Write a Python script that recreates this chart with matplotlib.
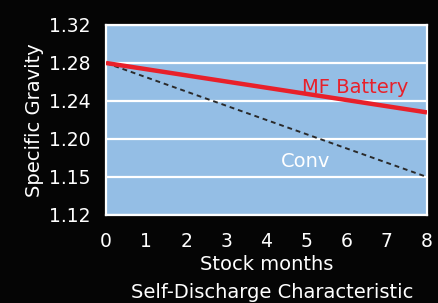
import numpy as np
import matplotlib
matplotlib.use("Agg")
import matplotlib.pyplot as plt

# ------------- data -------------
months = [0, 8]
mf_battery = [1.28, 1.228]
conv = [1.28, 1.15]
y_ticks = [1.12, 1.15, 1.20, 1.24, 1.28, 1.32]
x_ticks = [0, 1, 2, 3, 4, 5, 6, 7, 8]
# --------------------------------

BG = "#050505"
FACE = "#94BEE5"
RED = "#E8202A"
plt.rcParams["font.family"] = ["DejaVu Sans"]

# y axis is evenly spaced per tick, not per value
tick_pos = np.arange(len(y_ticks))
def fwd(v):
    return np.interp(v, y_ticks, tick_pos)
def inv(p):
    return np.interp(p, tick_pos, y_ticks)

fig = plt.figure(figsize=(4.39, 3.03), dpi=100, facecolor=BG)
ax = fig.add_axes([106 / 439, 1 - 215 / 303, 321 / 439, 190 / 303])
ax.set_facecolor(FACE)
ax.set_yscale("function", functions=(fwd, inv))
ax.set_ylim(1.12, 1.32)
ax.set_xlim(0, 8)

ax.plot(months, conv, color="#2a2a2a", lw=1.4, ls=(0, (2.5, 2)), zorder=3)
ax.plot(months, mf_battery, color=RED, lw=3.2, zorder=4, solid_capstyle="butt")

ax.set_yticks(y_ticks)
ax.set_yticklabels([f"{v:.2f}" for v in y_ticks])
ax.set_xticks(x_ticks)
ax.yaxis.grid(True, color="white", lw=1.6)
ax.set_axisbelow(True)
for s in ax.spines.values():
    s.set_color("white")
    s.set_linewidth(1.6)
ax.tick_params(colors="white", labelsize=13.5, length=0)
ax.tick_params(axis="y", pad=11)
ax.tick_params(axis="x", pad=12)

ax.text(6.2, 1.2485, "MF Battery", color=RED, fontsize=14, ha="center", va="baseline")
ax.text(4.98, 1.163, "Conv", color="white", fontsize=14, ha="center", va="baseline")

ax.set_ylabel("Specific Gravity", color="white", fontsize=14, labelpad=4)
ax.set_xlabel("Stock months", color="white", fontsize=14, labelpad=3)
fig.text(272 / 439, 1 - 293 / 303, "Self-Discharge Characteristic", color="white",
         fontsize=14, ha="center", va="center")

fig.savefig("out.png", dpi=100, facecolor=BG)
